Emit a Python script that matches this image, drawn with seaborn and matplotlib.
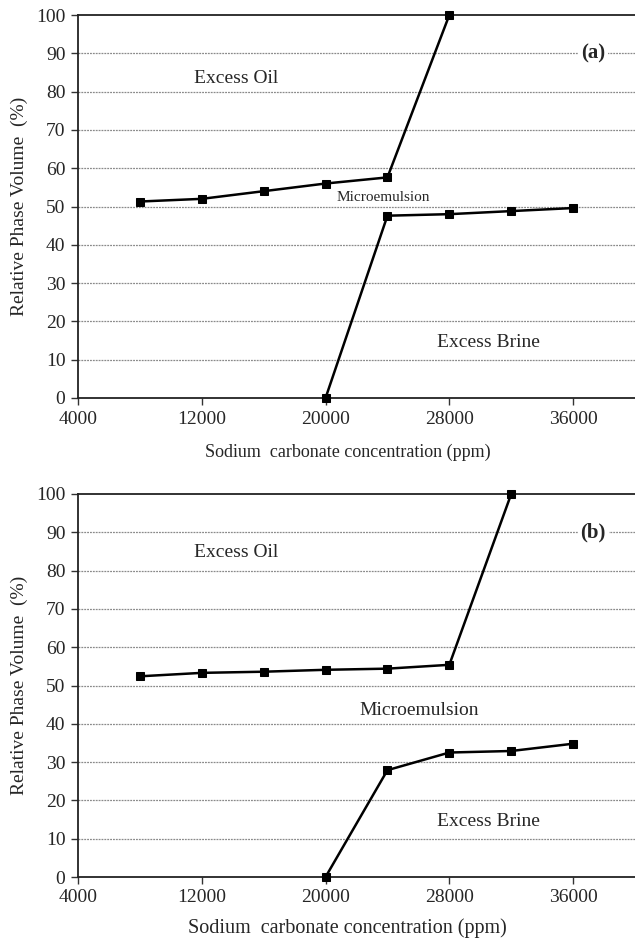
import matplotlib
matplotlib.use("Agg")
import matplotlib.pyplot as plt
import seaborn as sns
import pandas as pd

# ---- data ----
conc_a_upper = [8000, 12000, 16000, 20000, 24000, 28000]
vol_a_upper = [51.3, 52.0, 54.0, 56.0, 57.6, 100.0]
conc_a_lower = [20000, 24000, 28000, 32000, 36000]
vol_a_lower = [0.0, 47.6, 48.0, 48.8, 49.6]

conc_b_upper = [8000, 12000, 16000, 20000, 24000, 28000, 32000]
vol_b_upper = [52.4, 53.3, 53.6, 54.1, 54.4, 55.4, 100.0]
conc_b_lower = [20000, 24000, 28000, 32000, 36000]
vol_b_lower = [0.0, 27.9, 32.5, 32.9, 34.8]

x_ticks = [4000, 12000, 20000, 28000, 36000]
y_ticks = list(range(0, 101, 10))
x_label = "Sodium  carbonate concentration (ppm)"
y_label = "Relative Phase Volume  (%)"

sns.set_style("white")
plt.rcParams['font.family'] = ['Liberation Serif', 'DejaVu Serif']

fig = plt.figure(figsize=(6.35, 9.43), dpi=100)
W, H = 635, 943

def make_axes(top_px, bottom_px):
    left = 78 / W
    return fig.add_axes([left, 1 - bottom_px / H, 1 - left, (bottom_px - top_px) / H])

panels = [
    dict(top=15, bottom=398, up=(conc_a_upper, vol_a_upper), lo=(conc_a_lower, vol_a_lower),
         tag="(a)", xl_size=13, xl_y=-0.143,
         texts=[("Excess Oil", 14190, 83.5, 14), ("Microemulsion", 23740, 52.3, 11),
                ("Excess Brine", 30520, 14.4, 14)]),
    dict(top=494, bottom=877, up=(conc_b_upper, vol_b_upper), lo=(conc_b_lower, vol_b_lower),
         tag="(b)", xl_size=14.5, xl_y=-0.133,
         texts=[("Excess Oil", 14190, 84.6, 14), ("Microemulsion", 26060, 43.6, 14),
                ("Excess Brine", 30520, 14.4, 14)]),
]

for p in panels:
    ax = make_axes(p["top"], p["bottom"])
    for xs, ys in (p["up"], p["lo"]):
        df = pd.DataFrame({"x": xs, "y": ys})
        sns.lineplot(data=df, x="x", y="y", ax=ax, color="black", linewidth=1.8,
                     marker="s", markersize=5.5, markeredgecolor="black", sort=False,
                     clip_on=False, zorder=5)
    ax.set_xlim(4000, 40000)
    ax.set_ylim(0, 100)
    ax.set_xticks(x_ticks)
    ax.set_xticklabels([str(v) for v in x_ticks])
    ax.set_yticks(y_ticks)
    ax.set_yticklabels([str(v) for v in y_ticks])
    for yv in y_ticks[1:-1]:
        ax.axhline(yv, color="#8a8a8a", linewidth=0.9, linestyle=(0, (1.5, 0.8)), zorder=0)
    ax.tick_params(axis="both", which="major", labelsize=14, direction="out",
                   length=5, width=1, color="#333333", pad=4, bottom=True, left=True)
    for s in ("left", "bottom", "top"):
        ax.spines[s].set_color("#222222")
        ax.spines[s].set_linewidth(1.3)
    ax.spines["right"].set_visible(False)
    ax.set_xlabel(x_label, fontsize=p["xl_size"])
    ax.xaxis.label.set_va("center")
    ax.xaxis.set_label_coords(0.484, p["xl_y"])
    ax.set_ylabel(y_label, fontsize=14, labelpad=6)
    for t, xv, yv, fs in p["texts"]:
        ax.text(xv, yv, t, fontsize=fs, ha="center", va="center")
    ax.text(37300, 90, p["tag"], fontsize=15, fontweight="bold", ha="center", va="center",
            bbox=dict(facecolor="white", edgecolor="none", pad=2), zorder=6)

fig.savefig("out.png", dpi=100)
